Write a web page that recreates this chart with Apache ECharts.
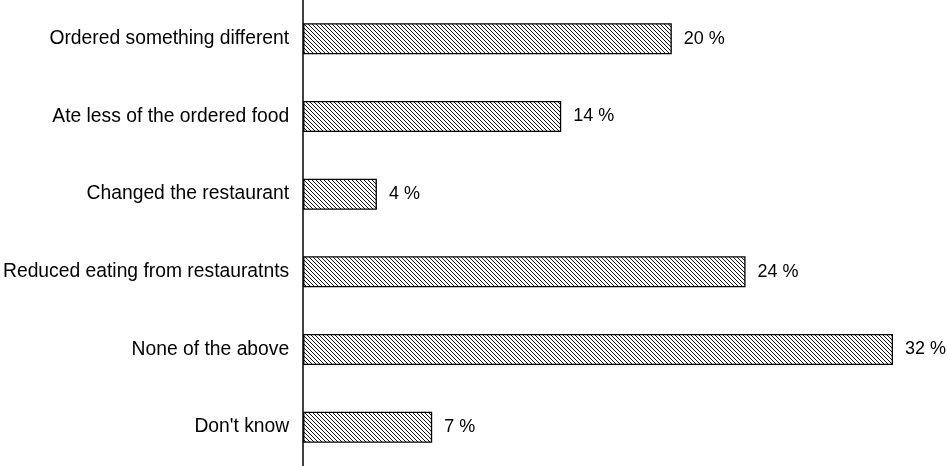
<!DOCTYPE html>
<html><head><meta charset="utf-8">
<script src="https://cdn.jsdelivr.net/npm/echarts@6/dist/echarts.min.js"></script>
<style>html,body{margin:0;padding:0;background:#fff}#c{width:948px;height:466px}</style>
</head><body><div id="c"></div>
<script>
const categories = ["Ordered something different","Ate less of the ordered food","Changed the restaurant","Reduced eating from restauratnts","None of the above","Don't know"];
const values = [20,14,4,24,32,7];

function makePattern(){
  const s = 4;
  const cv = document.createElement('canvas');
  cv.width = s; cv.height = s;
  const ctx = cv.getContext('2d');
  ctx.fillStyle = '#fff'; ctx.fillRect(0,0,s,s);
  ctx.fillStyle = '#111';
  for (let i = 0; i < s; i++) { ctx.fillRect(i, i, 1, 1); }
  return cv;
}
const chart = echarts.init(document.getElementById('c'), null, {renderer:'canvas'});
chart.setOption({
  animation:false,
  grid:{left:303,right:55,top:0,bottom:0,containLabel:false},
  xAxis:{type:'value',min:0,max:32,show:false},
  yAxis:{type:'category',data:categories,inverse:true,
    axisLine:{show:true,lineStyle:{color:'#000',width:1.5}},
    axisTick:{show:false},
    axisLabel:{color:'#000',fontFamily:'Liberation Sans, Arial',fontSize:19.3,margin:14}},
  series:[{type:'bar',data:values,barWidth:'40%',
    itemStyle:{color:{image:makePattern(),repeat:'repeat'},borderColor:'#000',borderWidth:1.3},
    label:{show:true,position:'right',distance:12,color:'#000',fontFamily:'Liberation Sans, Arial',fontSize:18,
      formatter:p=>p.value+' %'}}]
});
</script></body></html>
